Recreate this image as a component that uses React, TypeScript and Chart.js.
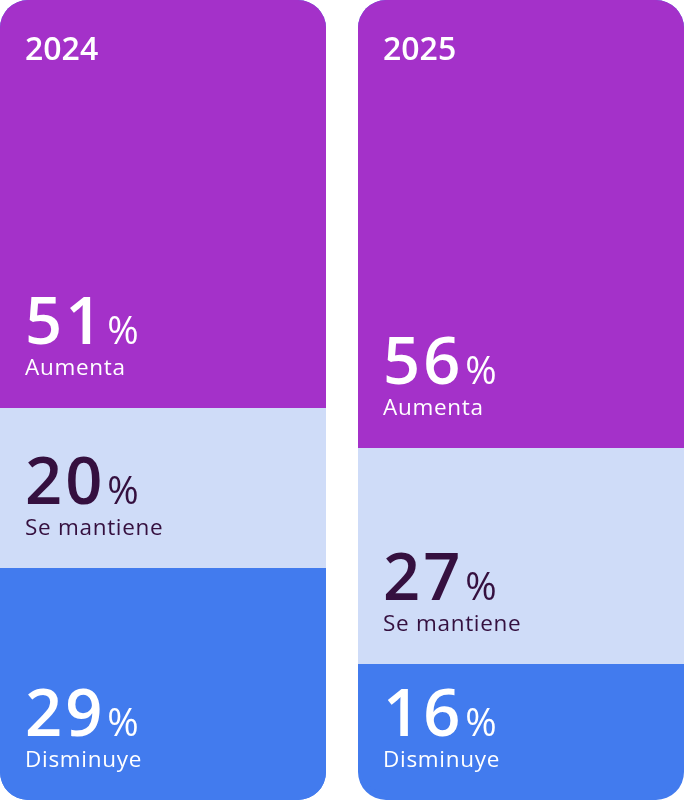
import { useEffect, useRef } from "react";
import { Chart } from "chart.js/auto";
import type { ChartConfiguration, Plugin } from "chart.js/auto";

const years = ["2024", "2025"];
const segmentLabels = ["Aumenta", "Se mantiene", "Disminuye"];
const aumenta = [51, 56];
const seMantiene = [20, 27];
const disminuye = [29, 16];
// full column behind the stack (answers don't always sum to 100)
const fullColumn = [100, 100];

const segmentValues = [aumenta, seMantiene, disminuye];
const segmentColors = ["#A431C9", "#CFDCF8", "#427BEE"];
const textColors = ["#FFFFFF", "#35103F", "#FFFFFF"];
const RADIUS = 28;
const FONT = "'Open Sans', Inter, sans-serif";

const segmentText: Plugin = {
  id: "segmentText",
  afterDatasetsDraw(chart) {
    const { ctx, chartArea } = chart;
    ctx.save();
    ctx.textAlign = "left";
    ctx.textBaseline = "alphabetic";

    segmentValues.forEach((values, di) => {
      const meta = chart.getDatasetMeta(di);
      meta.data.forEach((bar, i) => {
        const { x, y, base, width } = bar.getProps(["x", "y", "base", "width"], true) as any;
        const left = x - width / 2 + 25;
        const bottom = di === segmentValues.length - 1 ? chartArea.bottom : Math.max(y, base);
        ctx.fillStyle = textColors[di];
        const num = String(values[i]);
        (ctx as any).letterSpacing = "3px";
        ctx.font = `600 65px ${FONT}`;
        ctx.fillText(num, left, bottom - 64);
        const w = ctx.measureText(num).width;
        (ctx as any).letterSpacing = "0px";
        ctx.font = `500 38px ${FONT}`;
        ctx.fillText("%", left + w + 2, bottom - 64);
        (ctx as any).letterSpacing = "0.7px";
        ctx.font = `500 22.5px ${FONT}`;
        ctx.fillText(segmentLabels[di], left, bottom - 33);
      });
    });

    // year title in each column
    (ctx as any).letterSpacing = "0px";
    const first = chart.getDatasetMeta(0);
    first.data.forEach((bar, i) => {
      const { x, width } = bar.getProps(["x", "width"], true) as any;
      ctx.fillStyle = "#FFFFFF";
      ctx.font = `600 32px ${FONT}`;
      ctx.fillText(years[i], x - width / 2 + 25, chartArea.top + 60);
    });
    ctx.restore();
  },
};

export default function App() {
  const canvasRef = useRef<HTMLCanvasElement>(null);
  const chartRef = useRef<Chart | null>(null);

  useEffect(() => {
    document.body.style.margin = "0";
    document.body.style.overflow = "hidden";
    if (!canvasRef.current) return;

    if (chartRef.current) {
      chartRef.current.destroy();
    }

    const radii = [
      { topLeft: RADIUS, topRight: RADIUS, bottomLeft: 0, bottomRight: 0 },
      0,
      { topLeft: 0, topRight: 0, bottomLeft: RADIUS, bottomRight: RADIUS },
    ];

    const config: ChartConfiguration<"bar"> = {
      type: "bar",
      data: {
        labels: years,
        datasets: [
          ...segmentValues.map((values, di) => ({
            label: segmentLabels[di],
            data: values,
            backgroundColor: segmentColors[di],
            borderRadius: radii[di],
            borderSkipped: false,
            stack: "answers",
            order: 0,
          })),
          {
            label: "track",
            data: fullColumn,
            backgroundColor: segmentColors[2],
            borderRadius: RADIUS,
            borderSkipped: false,
            stack: "track",
            grouped: false,
            order: 1,
          },
        ],
      },
      options: {
        responsive: true,
        maintainAspectRatio: false,
        animation: false,
        layout: { padding: 0 },
        datasets: {
          bar: {
            barPercentage: 326 / 358,
            categoryPercentage: 1,
          },
        },
        scales: {
          x: { display: false, stacked: true },
          y: { display: false, stacked: true, reverse: true, min: 0, max: 100 },
        },
        plugins: {
          legend: { display: false },
          tooltip: { enabled: false },
        },
      },
      plugins: [segmentText],
    };

    chartRef.current = new Chart(canvasRef.current, config);

    return () => {
      if (chartRef.current) {
        chartRef.current.destroy();
        chartRef.current = null;
      }
    };
  }, []);

  return (
    <div style={{ position: "absolute", left: -16, top: 0, width: 716, height: 800 }}>
      <canvas ref={canvasRef}></canvas>
    </div>
  );
}
